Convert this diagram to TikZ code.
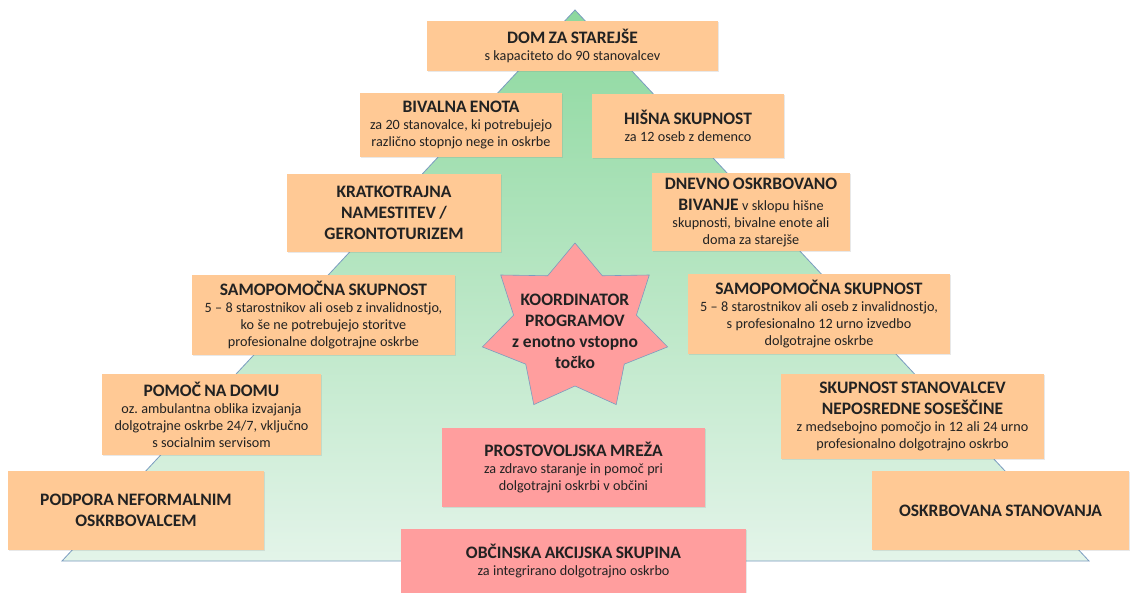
\documentclass[tikz,border=0pt]{standalone}
\usepackage{fontspec}
\setmainfont{Carlito}
\usetikzlibrary{shadows}
\setlength\parindent{0pt}
\setlength\parskip{0pt}
\frenchspacing
\definecolor{boxor}{HTML}{FFC995}
\definecolor{boxpk}{HTML}{FF9E9E}
\definecolor{trtop}{HTML}{8CD89E}
\definecolor{trbot}{HTML}{E3F4E9}
\definecolor{trline}{HTML}{7A9CC0}
\definecolor{txt}{HTML}{222222}
\newcommand\Tf{\fontsize{17.5}{21}\selectfont\bfseries}
\newcommand\Sf{\normalfont\fontsize{14.2}{17}\selectfont}
\newcommand\Tl[1]{{\Tf\makebox[0pt]{#1}\par}}
\newcommand\Sl[1]{{\Sf\makebox[0pt]{#1}\par}}
\tikzset{
  cbox/.style={rectangle, inner sep=0pt, align=center, text=txt,
    drop shadow={shadow xshift=1.2pt, shadow yshift=-1.2pt, opacity=0.18}},
  obox/.style={cbox, fill=boxor},
  pbox/.style={cbox, fill=boxpk},
  bsize/.style n args={2}{minimum width=#1pt, minimum height=#2pt, text width=#1pt},
}
\begin{document}
\begin{tikzpicture}[x=1pt,y=-1pt]
\fill[white] (0,0) rectangle (1131,593);
\useasboundingbox (0,0) rectangle (1131,593);
% pyramid
\draw[trline, line width=0.8pt, top color=trtop, bottom color=trbot]
  (62,561) -- (575,10) -- (1089,561) -- cycle;
% boxes
\node[obox,bsize={291}{50}] (dom) at (572.5,46)
  {\Tl{DOM ZA STAREJŠE}\Sl{s kapaciteto do 90 stanovalcev}};
\node[obox,bsize={202}{64}] (bival) at (461,125)
  {\Tl{BIVALNA ENOTA}\Sl{za 20 stanovalce, ki potrebujejo}\Sl{različno stopnjo nege in oskrbe}};
\node[obox,bsize={192}{64}] (hisna) at (688,126)
  {\Tl{HIŠNA SKUPNOST}\Sl{za 12 oseb z demenco}};
\node[obox,bsize={214}{78}] (kratko) at (394,213)
  {\Tl{KRATKOTRAJNA}\Tl{NAMESTITEV /}\Tl{GERONTOTURIZEM}};
\node[obox,bsize={198}{78}] (dnevno) at (751,212)
  {\Tl{DNEVNO OSKRBOVANO}{\Tf\makebox[0pt]{BIVANJE {\Sf v sklopu hišne}}\par}\Sl{skupnosti, bivalne enote ali}\Sl{doma za starejše}};
\node[obox,bsize={263}{80}] (samoL) at (323.5,315)
  {\Tl{SAMOPOMOČNA SKUPNOST}\Sl{5 – 8 starostnikov ali oseb z invalidnostjo,}\Sl{ko še ne potrebujejo storitve}\Sl{profesionalne dolgotrajne oskrbe}};
\node[obox,bsize={262}{80}] (samoR) at (819,314)
  {\Tl{SAMOPOMOČNA SKUPNOST}\Sl{5 – 8 starostnikov ali oseb z invalidnostjo,}\Sl{s profesionalno 12 urno izvedbo}\Sl{dolgotrajne oskrbe}};
\node[obox,bsize={219}{81}] (pomoc) at (211.5,414.5)
  {\Tl{POMOČ NA DOMU}\Sl{oz. ambulantna oblika izvajanja}\Sl{dolgotrajne oskrbe 24/7, vključno}\Sl{s socialnim servisom}};
\node[obox,bsize={256}{79}] (podpora) at (136,510.5)
  {\Tl{PODPORA NEFORMALNIM}\Tl{OSKRBOVALCEM}};
\node[obox,bsize={263}{85}] (skupst) at (912.5,416.5)
  {\Tl{SKUPNOST STANOVALCEV}\Tl{NEPOSREDNE SOSEŠČINE}\Sl{z medsebojno pomočjo in 12 ali 24 urno}\Sl{profesionalno dolgotrajno oskrbo}};
\node[obox,bsize={257}{79}] (oskrb) at (1000.5,510.5)
  {\Tl{OSKRBOVANA STANOVANJA}};
\node[pbox,bsize={263}{79}] (prosto) at (573.5,467.5)
  {\Tl{PROSTOVOLJSKA MREŽA}\Sl{za zdravo staranje in pomoč pri}\Sl{dolgotrajni oskrbi v občini}};
\node[pbox,bsize={345}{65}] (obcin) at (573.5,561.5)
  {\Tl{OBČINSKA AKCIJSKA SKUPINA}\Sl{za integrirano dolgotrajno oskrbo}};
% star
\draw[fill=boxpk, draw=trline, line width=0.6pt, shift={(575,328)}]
  plot[samples at={0,1,...,13}, variable=\k]
  ({ifthenelse(mod(\k,2)==0,95,63)*cos(90+\k*25.7143)},
   {-ifthenelse(mod(\k,2)==0,85,58)*sin(90+\k*25.7143)}) -- cycle;
\node[align=center, text=txt, font=\Tf, inner sep=0pt] (koord) at (575,331)
  {KOORDINATOR\\PROGRAMOV\\z enotno vstopno\\točko};
\end{tikzpicture}
\end{document}
